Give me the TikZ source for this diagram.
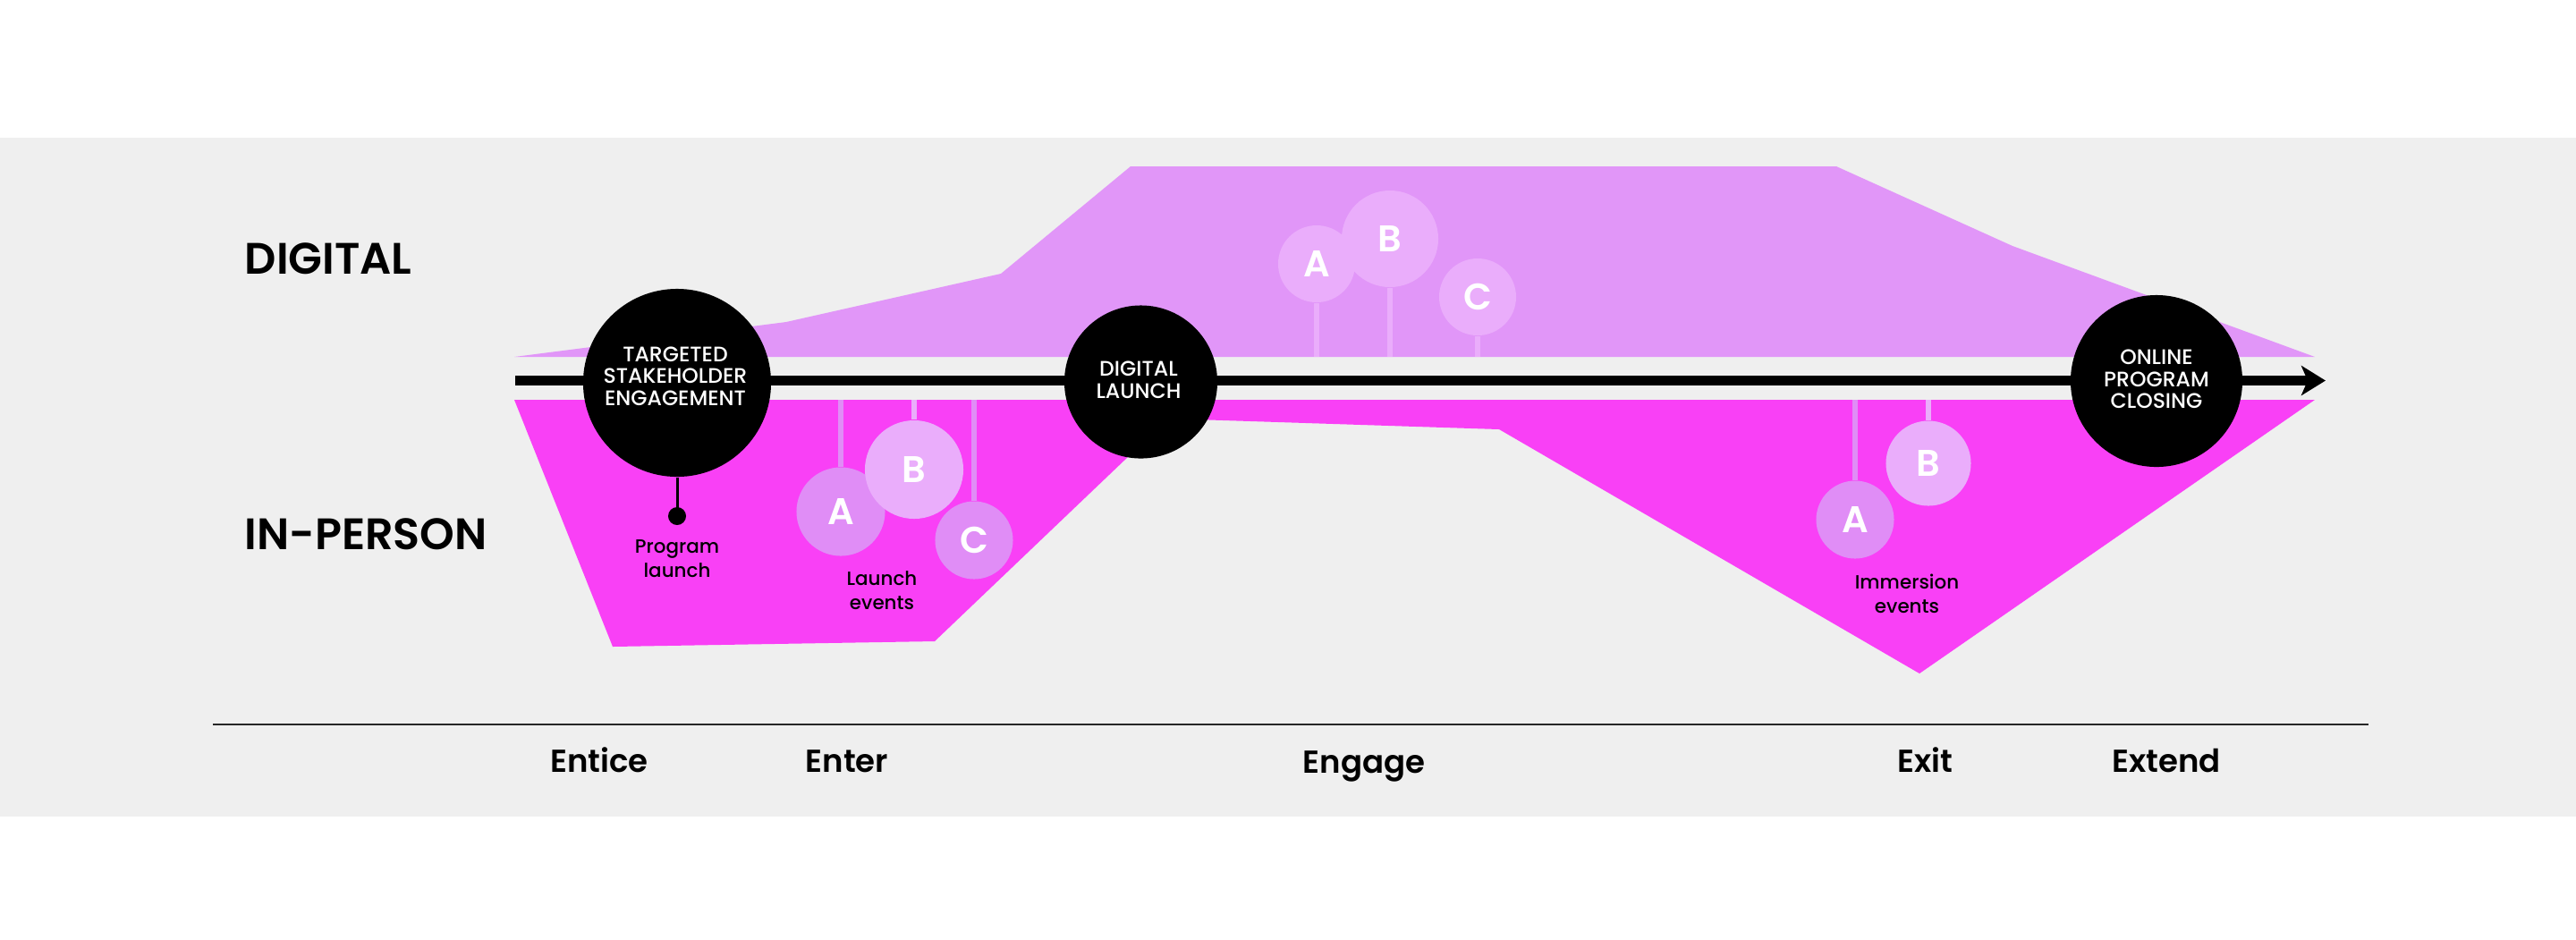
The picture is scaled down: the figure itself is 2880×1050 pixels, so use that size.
\documentclass[tikz,border=0pt]{standalone}
\usepackage{fontspec}
\setmainfont{Poppins}
\IfFontExistsTF{Poppins Medium}{\newfontfamily\pmed{Poppins Medium}}{\newfontfamily\pmed{Poppins}}
\IfFontExistsTF{Poppins SemiBold}{\newfontfamily\psemi{Poppins SemiBold}}{\newcommand\psemi{\bfseries}}
\usetikzlibrary{arrows.meta}
\definecolor{bggray}{HTML}{EFEFEF}
\definecolor{digi}{HTML}{E196F8}
\definecolor{hpink}{HTML}{F940F6}
\definecolor{lightc}{HTML}{EAADFB}
\definecolor{darkc}{HTML}{E08DF6}
\tikzset{
  ball/.style={circle, inner sep=0, text=white, font=\psemi\fontsize{11.8pt}{12pt}\selectfont},
  stem/.style={line width=0.055cm},
  bigc/.style={circle, fill=black, inner sep=0},
  ctext/.style={text=white, font=\pmed\fontsize{6.7pt}{7pt}\selectfont, align=center, inner sep=0},
  smalllab/.style={text=black, font=\pmed\fontsize{6.1pt}{7.5pt}\selectfont, align=center, inner sep=0},
  heading/.style={text=black, font=\psemi\fontsize{14pt}{16pt}\selectfont, inner sep=0, anchor=base west},
  phase/.style={text=black, font=\psemi\fontsize{10.1pt}{12pt}\selectfont, inner sep=0, anchor=base}
}
\begin{document}
\begin{tikzpicture}[x=0.01cm,y=-0.01cm]
\useasboundingbox (0,0) rectangle (2880,1050);
\fill[white] (0,0) rectangle (2880,1050);
\fill[bggray] (0,154) rectangle (2880,913);
% in-person area
\fill[hpink] (575,447) -- (685,723) -- (1045,717) -- (1306,468) -- (1676,480) -- (2146,753) -- (2588,447) -- cycle;
% digital area
\fill[digi] (575,399) -- (879,360) -- (1119,306) -- (1264,186) -- (2053,186) -- (2250,275) -- (2588,399) -- cycle;

\coordinate (dbase) at (0,399);
\coordinate (pbase) at (0,447);

% digital circles
\node[ball, fill=lightc, minimum size=0.86cm] (dA) at (1472,295) {A};
\node[ball, fill=lightc, minimum size=1.08cm] (dB) at (1554,267) {B};
\node[ball, fill=lightc, minimum size=0.86cm] (dC) at (1652,332) {C};
\draw[stem, draw=lightc] (dA.south) -- (dA.south |- dbase);
\draw[stem, draw=lightc] (dB.south) -- (dB.south |- dbase);
\draw[stem, draw=lightc] (dC.south) -- (dC.south |- dbase);

% launch events circles
\node[ball, fill=darkc, minimum size=0.99cm] (lA) at (940,572) {A};
\node[ball, fill=lightc, minimum size=1.10cm] (lB) at (1022,525) {B};
\node[ball, fill=darkc, minimum size=0.87cm] (lC) at (1089,604) {C};
\draw[stem, draw=darkc] (lA.north) -- (lA.north |- pbase);
\draw[stem, draw=lightc] (lB.north) -- (lB.north |- pbase);
\draw[stem, draw=darkc] (lC.north) -- (lC.north |- pbase);

% immersion events circles
\node[ball, fill=darkc, minimum size=0.87cm] (iA) at (2074,581) {A};
\node[ball, fill=lightc, minimum size=0.95cm] (iB) at (2156,518) {B};
\draw[stem, draw=darkc] (iA.north) -- (iA.north |- pbase);
\draw[stem, draw=lightc] (iB.north) -- (iB.north |- pbase);

% timeline
\coordinate (ls) at (576,425.5);
\coordinate (le) at (2600,425.5);
\draw[line width=0.11cm, -{Stealth[length=0.27cm,width=0.33cm,inset=0.07cm]}] (ls) -- (le);

% milestone circles
\node[bigc, minimum size=2.1cm] (tse) at (757,428) {};
\node[bigc, minimum size=1.71cm] (dl) at (1275.5,427) {};
\node[bigc, minimum size=1.92cm] (opc) at (2411,426) {};
\node[ctext] (tset) at (755,420.5) {TARGETED\\STAKEHOLDER\\ENGAGEMENT};
\node[ctext] (dlt) at (1273,425) {DIGITAL\\LAUNCH};
\node[ctext] (opct) at (2411,424) {ONLINE\\PROGRAM\\CLOSING};

% program launch pin
\node[circle, fill=black, inner sep=0, minimum size=0.2cm] (pin) at (757,577) {};
\draw[line width=0.03cm] (tse.south) -- (pin.center);
\node[smalllab, anchor=base] (pl) at (757,645) {Program\\launch};
\node[smalllab, anchor=base] (le1) at (986,681) {Launch\\events};
\node[smalllab, anchor=base] (ie1) at (2132,685) {Immersion\\events};

% headings
\node[heading] (hd) at (273,306) {DIGITAL};
\node[heading] (hp) at (273,614) {IN-PERSON};

% axis
\coordinate (ax1) at (238,810);
\coordinate (ax2) at (2648,810);
\draw[line width=0.025cm, draw=black!85] (ax1) -- (ax2);
\node[phase] (p1) at (670,863) {Entice};
\node[phase] (p2) at (947,863) {Enter};
\node[phase] (p3) at (1525,864) {Engage};
\node[phase] (p4) at (2152,863) {Exit};
\node[phase] (p5) at (2422,863) {Extend};
\end{tikzpicture}
\end{document}
